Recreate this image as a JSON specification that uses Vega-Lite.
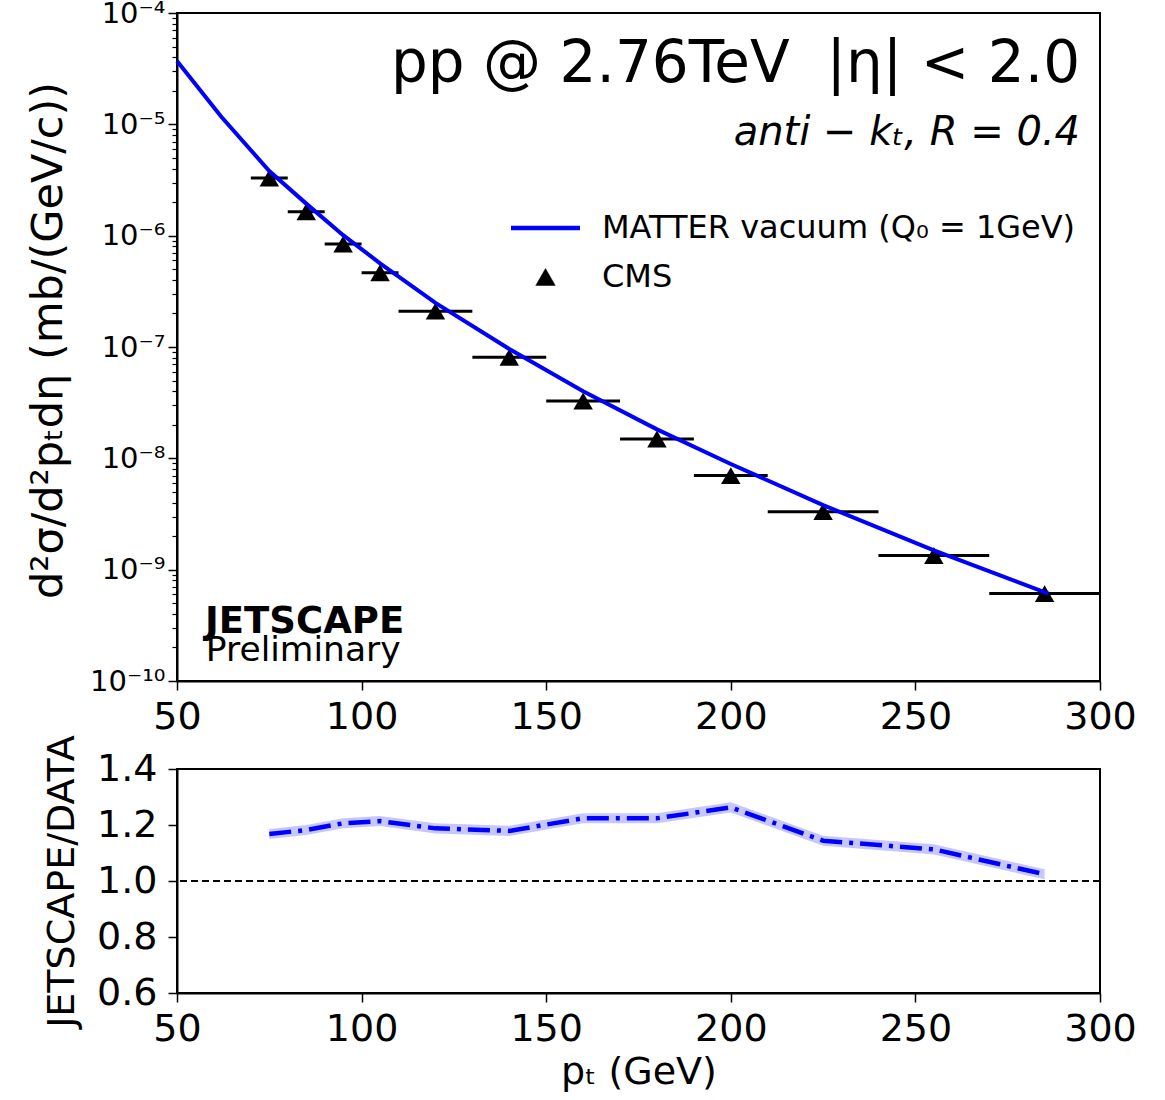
{
  "$schema": "https://vega.github.io/schema/vega-lite/v6.json",
  "autosize": {"type": "none"},
  "padding": {"left": 177, "top": 13, "right": 988, "bottom": 1087},
  "background": "white",
  "config": {
    "font": "DejaVu Sans",
    "view": {"stroke": "black", "strokeWidth": 2},
    "axis": {
      "grid": false, "domainColor": "black", "domainWidth": 2,
      "tickColor": "black", "tickWidth": 1.5, "labelColor": "black",
      "titleColor": "black", "titleFontWeight": "normal",
      "labelFont": "DejaVu Sans", "titleFont": "DejaVu Sans",
      "labelFlush": false, "labelOverlap": false, "labelBound": false
    }
  },
  "datasets": {
    "theory": [
      {"pt": 50, "xsec": 3.7e-5, "series": "MATTER vacuum (Q₀ = 1GeV)"},
      {"pt": 62, "xsec": 1.17e-5, "series": "MATTER vacuum (Q₀ = 1GeV)"},
      {"pt": 75, "xsec": 3.8e-6, "series": "MATTER vacuum (Q₀ = 1GeV)"},
      {"pt": 85, "xsec": 1.94e-6, "series": "MATTER vacuum (Q₀ = 1GeV)"},
      {"pt": 95, "xsec": 1.01e-6, "series": "MATTER vacuum (Q₀ = 1GeV)"},
      {"pt": 105, "xsec": 5.65e-7, "series": "MATTER vacuum (Q₀ = 1GeV)"},
      {"pt": 120, "xsec": 2.49e-7, "series": "MATTER vacuum (Q₀ = 1GeV)"},
      {"pt": 140, "xsec": 9.6e-8, "series": "MATTER vacuum (Q₀ = 1GeV)"},
      {"pt": 160, "xsec": 4.0e-8, "series": "MATTER vacuum (Q₀ = 1GeV)"},
      {"pt": 180, "xsec": 1.82e-8, "series": "MATTER vacuum (Q₀ = 1GeV)"},
      {"pt": 200, "xsec": 8.9e-9, "series": "MATTER vacuum (Q₀ = 1GeV)"},
      {"pt": 225, "xsec": 3.8e-9, "series": "MATTER vacuum (Q₀ = 1GeV)"},
      {"pt": 255, "xsec": 1.49e-9, "series": "MATTER vacuum (Q₀ = 1GeV)"},
      {"pt": 286, "xsec": 6.1e-10, "series": "MATTER vacuum (Q₀ = 1GeV)"}
    ],
    "cms": [
      {"pt": 75, "lo": 70, "hi": 80, "xsec": 3.3e-6, "series": "CMS"},
      {"pt": 85, "lo": 80, "hi": 90, "xsec": 1.64e-6, "series": "CMS"},
      {"pt": 95, "lo": 90, "hi": 100, "xsec": 8.4e-7, "series": "CMS"},
      {"pt": 105, "lo": 100, "hi": 110, "xsec": 4.65e-7, "series": "CMS"},
      {"pt": 120, "lo": 110, "hi": 130, "xsec": 2.1e-7, "series": "CMS"},
      {"pt": 140, "lo": 130, "hi": 150, "xsec": 8.1e-8, "series": "CMS"},
      {"pt": 160, "lo": 150, "hi": 170, "xsec": 3.27e-8, "series": "CMS"},
      {"pt": 180, "lo": 170, "hi": 190, "xsec": 1.49e-8, "series": "CMS"},
      {"pt": 200, "lo": 190, "hi": 210, "xsec": 7.0e-9, "series": "CMS"},
      {"pt": 225, "lo": 210, "hi": 240, "xsec": 3.32e-9, "series": "CMS"},
      {"pt": 255, "lo": 240, "hi": 270, "xsec": 1.34e-9, "series": "CMS"},
      {"pt": 285, "lo": 270, "hi": 300, "xsec": 6.1e-10, "series": "CMS"}
    ],
    "ratio": [
      {"pt": 75, "ratio": 1.168, "lo": 1.150, "hi": 1.186},
      {"pt": 85, "ratio": 1.182, "lo": 1.164, "hi": 1.200},
      {"pt": 95, "ratio": 1.206, "lo": 1.188, "hi": 1.224},
      {"pt": 105, "ratio": 1.214, "lo": 1.196, "hi": 1.232},
      {"pt": 120, "ratio": 1.188, "lo": 1.170, "hi": 1.206},
      {"pt": 140, "ratio": 1.179, "lo": 1.161, "hi": 1.197},
      {"pt": 160, "ratio": 1.224, "lo": 1.206, "hi": 1.242},
      {"pt": 180, "ratio": 1.224, "lo": 1.206, "hi": 1.242},
      {"pt": 200, "ratio": 1.263, "lo": 1.245, "hi": 1.281},
      {"pt": 225, "ratio": 1.144, "lo": 1.126, "hi": 1.162},
      {"pt": 255, "ratio": 1.113, "lo": 1.095, "hi": 1.131},
      {"pt": 285, "ratio": 1.024, "lo": 1.006, "hi": 1.042}
    ]
  },
  "spacing": 88,
  "bounds": "flush",
  "vconcat": [
    {
      "width": 923,
      "height": 668,
      "resolve": {"axis": {"y": "independent"}},
      "layer": [
        {
          "data": {"name": "cms"},
          "mark": {"type": "rule", "color": "black", "strokeWidth": 3},
          "encoding": {
            "x": {
              "field": "lo", "type": "quantitative",
              "scale": {"domain": [50, 300], "nice": false, "zero": false},
              "axis": {"values": [50, 100, 150, 200, 250, 300], "title": null, "labelFontSize": 38, "tickSize": 9, "labelPadding": 8}
            },
            "x2": {"field": "hi"},
            "y": {
              "field": "xsec", "type": "quantitative",
              "scale": {"type": "log", "domain": [1e-10, 1e-4], "nice": false},
              "axis": {
                "orient": "left", "title": null, "labels": false, "domain": false,
                "tickSize": 5, "tickWidth": 1.2,
                "values": [2e-10, 3e-10, 4e-10, 5e-10, 6e-10, 7e-10, 8e-10, 9e-10,
                           2e-9, 3e-9, 4e-9, 5e-9, 6e-9, 7e-9, 8e-9, 9e-9,
                           2e-8, 3e-8, 4e-8, 5e-8, 6e-8, 7e-8, 8e-8, 9e-8,
                           2e-7, 3e-7, 4e-7, 5e-7, 6e-7, 7e-7, 8e-7, 9e-7,
                           2e-6, 3e-6, 4e-6, 5e-6, 6e-6, 7e-6, 8e-6, 9e-6,
                           2e-5, 3e-5, 4e-5, 5e-5, 6e-5, 7e-5, 8e-5, 9e-5]
              }
            }
          }
        },
        {
          "data": {"name": "cms"},
          "mark": {"type": "point", "filled": true, "shape": "triangle-up", "size": 380, "opacity": 1},
          "encoding": {
            "x": {
              "field": "pt", "type": "quantitative",
              "scale": {"domain": [50, 300], "nice": false, "zero": false},
              "axis": {"values": [50, 100, 150, 200, 250, 300], "title": null, "labelFontSize": 38, "tickSize": 9, "labelPadding": 8}
            },
            "y": {"field": "xsec", "type": "quantitative", "axis": null},
            "color": {
              "field": "series", "type": "nominal",
              "scale": {"domain": ["MATTER vacuum (Q₀ = 1GeV)", "CMS"], "range": ["#0000ff", "black"]},
              "legend": {
                "orient": "none", "legendX": 352.5, "legendY": 199, "title": null,
                "padding": 0, "labelFontSize": 32, "labelFont": "DejaVu Sans", "labelColor": "black",
                "labelLimit": 800, "symbolSize": 400, "rowPadding": 17,
                "labelOffset": 40.5, "symbolStrokeWidth": 4,
                "encode": {
                  "symbols": {
                    "update": {
                      "fill": {"signal": "datum.value === 'CMS' ? 'black' : 'transparent'"},
                      "stroke": {"signal": "datum.value === 'CMS' ? 'black' : '#0000ff'"},
                      "strokeWidth": {"signal": "datum.value === 'CMS' ? 0.5 : 4.5"},
                      "size": {"signal": "datum.value === 'CMS' ? 380 : 4761"},
                      "shape": {"signal": "datum.value === 'CMS' ? 'triangle-up' : 'stroke'"},
                      "opacity": {"value": 1}
                    }
                  }
                }
              }
            }
          }
        },
        {
          "data": {"name": "theory"},
          "mark": {"type": "line", "strokeWidth": 4},
          "encoding": {
            "x": {
              "field": "pt", "type": "quantitative",
              "scale": {"domain": [50, 300], "nice": false, "zero": false},
              "axis": {"values": [50, 100, 150, 200, 250, 300], "title": null, "labelFontSize": 38, "tickSize": 9, "labelPadding": 8}
            },
            "y": {
              "field": "xsec", "type": "quantitative",
              "axis": {
                "orient": "left",
                "values": [1e-10, 1e-9, 1e-8, 1e-7, 1e-6, 1e-5, 1e-4],
                "labelExpr": "'10⁻' + (round(-log(datum.value)/LN10) >= 10 ? '¹⁰' : substring('⁰¹²³⁴⁵⁶⁷⁸⁹', round(-log(datum.value)/LN10), round(-log(datum.value)/LN10) + 1))",
                "labelFontSize": 29, "tickSize": 9, "labelPadding": 3,
                "title": "d²σ/d²pₜdη (mb/(GeV/c))", "titleFontSize": 43,
                "titleX": -129, "titleY": 327, "titleBaseline": "middle"
              }
            },
            "color": {
              "field": "series", "type": "nominal",
              "scale": {"domain": ["MATTER vacuum (Q₀ = 1GeV)", "CMS"], "range": ["#0000ff", "black"]},
              "legend": {
                "orient": "none", "legendX": 352.5, "legendY": 199, "title": null,
                "padding": 0, "labelFontSize": 32, "labelFont": "DejaVu Sans", "labelColor": "black",
                "labelLimit": 800, "symbolSize": 400, "rowPadding": 17,
                "labelOffset": 40.5, "symbolStrokeWidth": 4,
                "encode": {
                  "symbols": {
                    "update": {
                      "fill": {"signal": "datum.value === 'CMS' ? 'black' : 'transparent'"},
                      "stroke": {"signal": "datum.value === 'CMS' ? 'black' : '#0000ff'"},
                      "strokeWidth": {"signal": "datum.value === 'CMS' ? 0.5 : 4.5"},
                      "size": {"signal": "datum.value === 'CMS' ? 380 : 4761"},
                      "shape": {"signal": "datum.value === 'CMS' ? 'triangle-up' : 'stroke'"},
                      "opacity": {"value": 1}
                    }
                  }
                }
              }
            }
          }
        },
        {
          "data": {"values": [{}]},
          "mark": {"type": "text", "align": "right", "baseline": "alphabetic", "fontSize": 58, "color": "black", "text": "pp @ 2.76TeV \u00a0|η| < 2.0"},
          "encoding": {
            "x": {
              "datum": 294.6, "type": "quantitative",
              "scale": {"domain": [50, 300], "nice": false, "zero": false},
              "axis": {"values": [50, 100, 150, 200, 250, 300], "title": null, "labelFontSize": 38, "tickSize": 9, "labelPadding": 8}
            },
            "y": {"datum": 2.4e-5, "type": "quantitative", "axis": null}
          }
        },
        {
          "data": {"values": [{}]},
          "mark": {"type": "text", "align": "right", "baseline": "alphabetic", "fontSize": 40, "fontStyle": "italic", "color": "black", "text": "anti − kₜ, R = 0.4"},
          "encoding": {
            "x": {
              "datum": 294.6, "type": "quantitative",
              "scale": {"domain": [50, 300], "nice": false, "zero": false},
              "axis": {"values": [50, 100, 150, 200, 250, 300], "title": null, "labelFontSize": 38, "tickSize": 9, "labelPadding": 8}
            },
            "y": {"datum": 6.5e-6, "type": "quantitative", "axis": null}
          }
        },
        {
          "data": {"values": [{}]},
          "mark": {"type": "text", "align": "left", "baseline": "alphabetic", "fontSize": 37, "fontWeight": "bold", "color": "black", "text": "JETSCAPE"},
          "encoding": {
            "x": {
              "datum": 57.6, "type": "quantitative",
              "scale": {"domain": [50, 300], "nice": false, "zero": false},
              "axis": {"values": [50, 100, 150, 200, 250, 300], "title": null, "labelFontSize": 38, "tickSize": 9, "labelPadding": 8}
            },
            "y": {"datum": 2.72e-10, "type": "quantitative", "axis": null}
          }
        },
        {
          "data": {"values": [{}]},
          "mark": {"type": "text", "align": "left", "baseline": "alphabetic", "fontSize": 34.5, "color": "black", "text": "Preliminary"},
          "encoding": {
            "x": {
              "datum": 57.8, "type": "quantitative",
              "scale": {"domain": [50, 300], "nice": false, "zero": false},
              "axis": {"values": [50, 100, 150, 200, 250, 300], "title": null, "labelFontSize": 38, "tickSize": 9, "labelPadding": 8}
            },
            "y": {"datum": 1.52e-10, "type": "quantitative", "axis": null}
          }
        }
      ]
    },
    {
      "width": 923,
      "height": 224,
      "layer": [
        {
          "data": {"name": "ratio"},
          "mark": {"type": "area", "color": "#0000ff", "opacity": 0.22},
          "encoding": {
            "x": {
              "field": "pt", "type": "quantitative",
              "scale": {"domain": [50, 300], "nice": false, "zero": false},
              "axis": {"values": [50, 100, 150, 200, 250, 300], "labelFontSize": 38, "tickSize": 9, "labelPadding": 8,
                       "title": "pₜ (GeV)", "titleFontSize": 38, "titleY": 90, "titleBaseline": "alphabetic"}
            },
            "y": {
              "field": "lo", "type": "quantitative",
              "scale": {"domain": [0.6, 1.4], "nice": false, "zero": false},
              "axis": {"values": [0.6, 0.8, 1.0, 1.2, 1.4], "format": ".1f", "labelFontSize": 38, "tickSize": 9, "labelPadding": 11,
                       "title": "JETSCAPE/DATA", "titleFontSize": 38, "titleX": -115, "titleBaseline": "middle"}
            },
            "y2": {"field": "hi"}
          }
        },
        {
          "data": {"values": [{}]},
          "mark": {"type": "rule", "color": "black", "strokeWidth": 2, "strokeDash": [7, 4]},
          "encoding": {
            "y": {
              "datum": 1.0, "type": "quantitative",
              "scale": {"domain": [0.6, 1.4], "nice": false, "zero": false},
              "axis": {"values": [0.6, 0.8, 1.0, 1.2, 1.4], "format": ".1f", "labelFontSize": 38, "tickSize": 9, "labelPadding": 11,
                       "title": "JETSCAPE/DATA", "titleFontSize": 38, "titleX": -115, "titleBaseline": "middle"}
            }
          }
        },
        {
          "data": {"name": "ratio"},
          "mark": {"type": "line", "color": "#0000ff", "strokeWidth": 4.5, "strokeDash": [22, 7, 4, 7]},
          "encoding": {
            "x": {
              "field": "pt", "type": "quantitative",
              "scale": {"domain": [50, 300], "nice": false, "zero": false},
              "axis": {"values": [50, 100, 150, 200, 250, 300], "labelFontSize": 38, "tickSize": 9, "labelPadding": 8,
                       "title": "pₜ (GeV)", "titleFontSize": 38, "titleY": 90, "titleBaseline": "alphabetic"}
            },
            "y": {
              "field": "ratio", "type": "quantitative",
              "scale": {"domain": [0.6, 1.4], "nice": false, "zero": false},
              "axis": {"values": [0.6, 0.8, 1.0, 1.2, 1.4], "format": ".1f", "labelFontSize": 38, "tickSize": 9, "labelPadding": 11,
                       "title": "JETSCAPE/DATA", "titleFontSize": 38, "titleX": -115, "titleBaseline": "middle"}
            }
          }
        }
      ]
    }
  ]
}
